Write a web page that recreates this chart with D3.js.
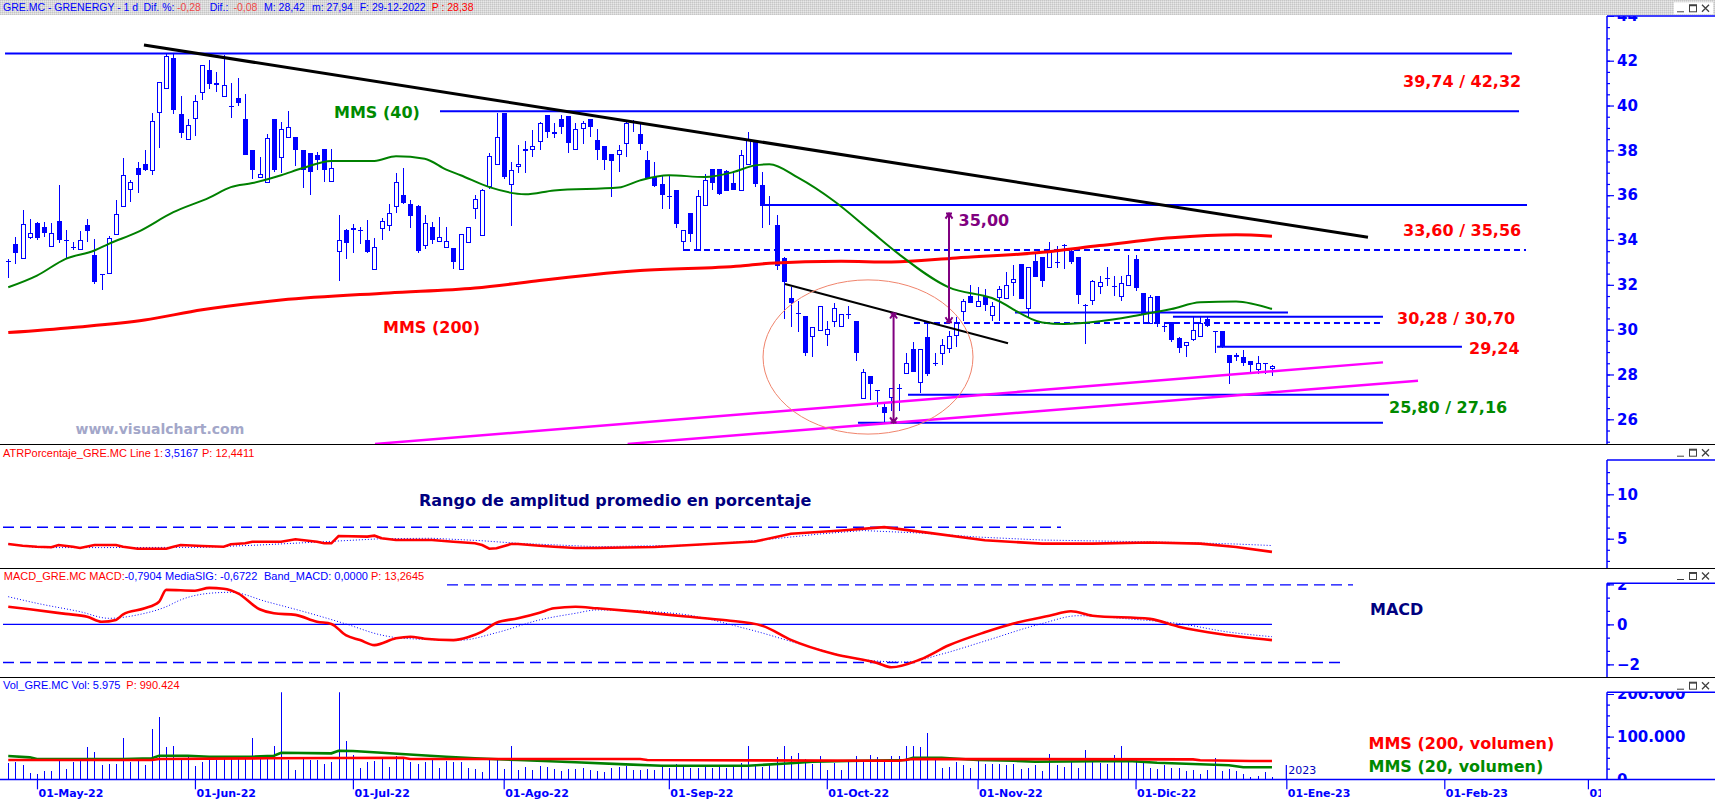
<!DOCTYPE html>
<html><head><meta charset="utf-8">
<script src="https://cdn.jsdelivr.net/npm/d3@7"></script>
<style>
html,body{margin:0;padding:0;background:#fff;overflow:hidden}
svg{display:block}
</style></head><body>
<svg id="c" width="1715" height="799"></svg>
<script>
// ---------------- DATA ----------------
// sessions start 26-Apr-2022 (index 0); last bar 29-Dec-2022 (index 176)
const firstSession = "2022-04-26";
const holidays = ["2022-12-26"];
const monthKeys   = ["2022-05","2022-06","2022-07","2022-08","2022-09","2022-10","2022-11","2022-12","2023-01","2023-02","2023-03"];
const monthLabels = ["01-May-22","01-Jun-22","01-Jul-22","01-Ago-22","01-Sep-22","01-Oct-22","01-Nov-22","01-Dic-22","01-Ene-23","01-Feb-23","01-Mar-23"];

const opens = [
33.08,33.80,33.16,34.10,34.77,34.57,33.68,34.87,34.01,33.68,
33.56,34.69,33.31,32.48,32.48,34.23,35.47,36.22,37.23,37.38,
37.08,39.67,40.72,42.11,39.64,38.48,39.38,40.58,41.58,40.90,
40.36,40.00,40.32,39.42,38.00,36.77,36.54,39.39,37.68,38.57,
38.60,38.00,37.86,37.81,38.04,36.59,33.46,34.45,34.45,34.43,
34.01,32.67,34.50,34.63,35.47,36.02,35.62,35.50,33.71,34.60,
33.90,33.65,33.65,32.66,33.87,35.40,34.17,36.36,37.33,39.68,
36.47,37.26,37.97,38.00,38.38,39.57,38.72,39.42,39.52,38.03,
38.97,39.38,38.48,38.18,37.83,37.81,38.30,39.05,38.72,37.59,
36.81,36.51,35.96,36.22,33.90,35.22,33.53,35.51,37.18,37.18,
37.08,36.56,36.19,37.33,38.48,36.47,35.62,34.69,33.20,31.41,
30.74,30.62,29.65,29.95,29.77,30.35,30.14,30.72,30.40,26.89,
27.94,27.31,26.55,26.94,27.39,28.04,29.13,27.64,29.68,28.53,
28.91,29.13,29.73,30.77,31.52,30.99,31.52,30.62,31.41,31.37,
32.08,32.93,30.92,33.05,33.26,32.75,33.04,33.78,33.53,33.26,
31.10,31.29,31.92,32.31,31.96,31.44,31.96,33.13,31.64,30.25,
31.52,30.17,30.32,29.62,29.28,29.55,29.68,30.47,29.92,29.92,
28.88,28.88,28.79,28.61,28.19,28.49,28.25];
const highs = [
33.16,34.13,35.35,34.95,34.80,34.80,34.75,36.44,34.45,33.90,
34.40,34.95,34.05,32.50,34.20,35.77,37.66,36.66,37.48,38.00,
39.67,41.03,42.33,42.33,40.42,39.38,40.47,41.81,42.03,41.51,
42.26,40.99,41.21,40.51,38.00,37.70,38.75,39.39,39.27,39.75,
38.60,38.00,37.86,37.93,38.04,38.04,35.10,34.50,34.70,34.57,
34.90,34.10,34.97,35.59,37.00,37.20,35.80,35.55,35.13,34.80,
35.02,34.60,33.65,34.28,34.57,35.99,36.29,37.88,39.65,39.68,
37.48,38.23,38.40,38.93,39.27,39.57,39.20,39.57,39.52,39.20,
39.32,39.38,38.97,38.18,37.83,38.23,39.35,39.35,39.20,37.96,
37.48,36.84,36.84,36.22,34.45,35.22,36.22,36.96,37.18,37.18,
37.11,37.04,38.00,38.83,38.48,37.04,35.95,35.10,33.23,31.89,
31.29,30.62,30.13,31.07,30.40,31.17,30.70,31.07,30.40,28.24,
27.94,27.31,26.74,27.39,27.56,28.95,29.43,29.13,30.28,28.98,
29.58,29.95,30.55,31.37,32.00,31.92,31.81,31.22,31.96,32.56,
32.89,32.93,32.81,33.41,33.26,33.90,33.75,33.80,33.60,33.26,
31.14,32.23,32.41,32.78,32.41,32.41,33.31,33.31,31.64,31.55,
31.52,30.32,30.32,29.65,29.43,30.58,30.55,30.55,29.92,29.92,
28.88,28.94,29.10,28.61,28.83,28.49,28.42];
const lows = [
32.31,32.93,33.16,34.05,34.00,34.12,33.68,33.86,33.16,33.56,
33.56,33.90,32.04,31.77,32.48,34.23,35.47,35.69,36.10,37.10,
36.89,38.11,40.72,39.60,38.56,38.48,38.63,40.24,40.72,40.61,
40.36,39.45,40.00,37.78,36.74,36.75,36.54,37.04,36.99,38.57,
37.29,36.32,36.02,37.11,36.59,36.59,32.19,33.16,33.40,33.83,
33.40,32.67,34.00,34.40,35.20,35.60,34.55,33.40,33.60,33.80,
33.90,33.65,32.71,32.66,33.87,34.95,34.17,36.29,37.33,36.74,
34.62,36.99,36.99,37.71,38.00,38.53,38.53,38.75,37.88,38.03,
38.30,38.60,37.59,37.11,35.92,37.04,37.71,38.82,38.00,36.74,
36.36,35.40,35.40,34.55,33.53,33.90,33.53,35.51,36.22,35.99,
36.17,36.22,36.19,37.33,36.36,34.55,34.69,32.67,30.47,30.10,
29.88,28.83,28.76,29.95,29.28,30.10,30.14,30.47,28.58,26.89,
26.85,26.56,25.85,26.37,26.37,28.04,28.09,27.16,27.91,28.39,
28.41,28.94,29.23,30.40,31.19,30.99,30.82,30.40,30.40,31.37,
31.52,31.37,30.55,32.34,31.89,32.75,32.75,32.71,32.93,31.14,
29.35,31.11,31.59,31.96,31.52,31.29,31.96,31.74,30.25,30.25,
30.10,29.88,29.47,28.94,28.76,29.50,29.65,30.10,28.95,29.20,
27.56,28.58,28.37,28.06,28.01,28.00,27.94];
const closes = [
33.01,33.44,34.72,34.32,34.10,34.32,34.32,34.01,33.95,33.65,
33.98,34.42,32.11,32.44,34.10,35.17,36.89,36.60,36.89,37.11,
39.30,41.03,42.21,39.79,38.78,39.11,40.20,41.81,40.94,41.00,
40.90,39.94,40.12,37.78,37.11,36.96,38.57,37.11,38.97,39.05,
38.00,37.14,37.03,37.56,37.11,37.23,33.98,33.86,34.54,34.40,
33.46,33.68,34.84,35.20,36.59,35.65,35.05,33.53,34.75,34.00,
34.13,33.95,33.01,34.28,34.57,35.84,36.22,37.77,38.60,36.81,
37.11,37.41,38.05,38.18,39.20,38.82,38.81,39.05,38.33,38.97,
39.20,39.05,38.03,37.56,37.53,38.00,39.20,39.08,38.27,36.74,
36.39,35.99,35.94,34.72,34.45,34.28,35.98,36.69,36.54,36.07,
36.19,36.22,37.78,38.45,36.48,35.50,35.60,32.86,32.11,31.19,
30.72,28.94,30.13,31.07,30.03,30.96,30.70,30.70,28.95,28.09,
27.56,27.28,26.27,27.39,27.36,28.53,28.13,29.13,28.01,28.50,
29.32,29.73,30.28,31.29,31.19,31.26,31.11,31.04,31.81,31.99,
32.26,31.37,32.81,32.34,32.19,33.50,33.01,33.72,33.01,31.55,
31.07,32.19,32.11,32.28,31.94,32.08,32.44,31.86,30.70,31.44,
30.28,30.15,29.53,29.17,29.43,29.98,30.28,30.17,29.90,29.23,
28.53,28.76,28.53,28.43,28.50,28.46,28.38];
const volumes = [
38200,40600,32800,14800,13300,18700,18700,44500,25000,40600,
42200,75700,64000,34300,36700,36700,96800,40600,48400,34300,
117100,146000,75700,78100,48400,56200,31200,40600,52300,44500,
48400,50700,53900,53900,96800,52300,48400,77300,204500,44500,
21100,52300,44500,44500,36700,40600,204500,89000,56200,26500,
40600,42200,48400,28900,53900,52300,40600,36700,40600,44500,
26500,42900,40600,40600,27300,25000,17200,44500,44500,25000,
77300,21100,28900,22600,30400,28900,25000,19500,25000,25000,
26500,21100,19500,17200,27300,28900,30400,21100,21100,25000,
22600,30400,27300,36700,28900,27300,27300,30400,27300,28900,
27300,30400,38200,77300,32800,28900,36700,52300,77300,53900,
61700,48400,36700,53900,21100,38200,21100,40600,53900,44500,
56200,52300,44500,53900,
53900,77300,77300,75700,108500,48400,27300,28900,40600,32800,
27300,44500,36700,36700,36700,32800,36700,25000,27300,32800,
19500,58500,32800,28900,40600,27300,69500,40600,38200,36700,
56200,77300,40600,44500,40600,27300,25000,32800,27300,27300,
19500,21100,11700,22600,50700,19500,25000,19500,11700,5500,
7000,17200,5975];

// moving averages / indicators: [session index, value]
const mms40 = [[0,31.89],[4,32.41],[8,33.16],[12,33.53],[14,33.83],[18,34.35],[23,35.24],[28,35.89],[31,36.36],[34,36.54],[38,36.89],[41,37.21],[45,37.53],[51,37.53],[54,37.74],[58,37.63],[61,37.14],[63,36.89],[67,36.36],[72,36.04],[76,36.21],[85,36.34],[88,36.66],[92,36.89],[97,36.81],[101,37.03],[104,37.33],[106,37.38],[110,36.78],[115,35.74],[120,34.43],[124,33.38],[131,31.89],[137,31.41],[144,30.32],[147,30.25],[152,30.37],[157,30.62],[162,30.92],[166,31.22],[171,31.26],[176,30.92]];
const mms200 = [[0,29.87],[9,30.10],[19,30.43],[27,30.89],[38,31.32],[53,31.64],[65,31.86],[74,32.19],[78,32.34],[88,32.64],[102,32.84],[106,32.96],[116,33.05],[123,33.02],[132,33.20],[144,33.45],[152,33.75],[162,34.10],[171,34.23],[176,34.17]];
const atrLine = [[0,4.40],[2,4.21],[4,4.10],[6,4.03],[7,4.29],[9,4.10],[10,3.95],[12,4.29],[15,4.29],[16,4.10],[18,3.87],[22,3.87],[23,4.10],[24,4.29],[27,4.18],[30,4.10],[31,4.37],[33,4.48],[34,4.66],[38,4.66],[40,4.93],[43,4.66],[44,4.48],[45,4.48],[46,5.30],[50,5.23],[51,5.34],[52,5.05],[54,4.85],[59,4.85],[62,4.66],[65,4.48],[66,4.29],[67,3.87],[68,3.92],[70,4.40],[71,4.40],[74,4.21],[76,4.10],[79,3.95],[82,3.95],[90,4.06],[104,4.68],[109,5.55],[116,5.92],[122,6.30],[128,5.68],[136,4.82],[144,4.45],[151,4.45],[159,4.57],[166,4.45],[171,4.06],[176,3.52]];
const atrAvg = [[0,4.40],[4,4.00],[13,4.00],[27,4.03],[35,4.29],[44,4.66],[52,5.00],[59,5.05],[66,4.77],[71,4.48],[82,4.10],[96,4.29],[105,4.85],[113,5.53],[119,5.92],[127,5.64],[135,5.19],[144,4.85],[152,4.74],[160,4.63],[166,4.51],[171,4.40],[176,4.23]];
const atrBand = 6.29;
const macdLine = [[0,0.88],[3,0.75],[8,0.52],[11,0.38],[13,0.13],[15,0.22],[16,0.50],[19,0.80],[21,1.13],[22,1.72],[26,1.68],[28,1.82],[30,1.78],[32,1.55],[35,0.75],[37,0.55],[40,0.47],[43,0.13],[45,0.02],[47,-0.54],[49,-0.79],[51,-1.04],[54,-0.70],[56,-0.62],[58,-0.72],[62,-0.79],[64,-0.65],[66,-0.37],[68,0.08],[71,0.30],[74,0.58],[76,0.80],[79,0.88],[82,0.80],[88,0.62],[94,0.40],[100,0.20],[105,-0.07],[109,-0.78],[115,-1.49],[121,-1.93],[123,-2.15],[127,-1.76],[131,-1.05],[136,-0.40],[140,0.04],[145,0.43],[148,0.65],[151,0.43],[159,0.27],[163,-0.12],[169,-0.50],[176,-0.79]];
const macdSignal = [[0,1.38],[4,1.05],[10,0.63],[14,0.30],[18,0.47],[22,0.88],[24,1.22],[28,1.55],[31,1.60],[36,1.13],[42,0.55],[47,0.02],[52,-0.54],[55,-0.70],[63,-0.79],[68,-0.42],[74,0.22],[79,0.55],[82,0.72],[93,0.54],[103,-0.24],[112,-1.16],[119,-1.77],[125,-1.89],[130,-1.49],[136,-0.84],[144,0.04],[149,0.43],[156,0.27],[163,0.04],[170,-0.39],[176,-0.62]];
const macdBands = [1.97, -1.91];
const volMms200 = [[0,45200],[20,45200],[21,47500],[36,49200],[55,50600],[56,47500],[88,47500],[89,45200],[124,43600],[126,47500],[165,46800],[166,44500],[173,42900],[176,42900]];
const volMms20 = [[0,54600],[3,51500],[4,47500],[16,47500],[20,49200],[21,55300],[25,55300],[28,52900],[34,52900],[37,55300],[38,62300],[45,60900],[46,67000],[48,66300],[52,62300],[57,56900],[61,52900],[65,49200],[71,45200],[79,39800],[86,35100],[91,31900],[103,31900],[109,37500],[112,41200],[117,42900],[125,45200],[126,50600],[130,50600],[135,45200],[140,43600],[143,41200],[156,42900],[160,38900],[165,35800],[170,32800],[172,28100],[176,28100]];

// drawn studies (session index / price)
const levelValues = [42.32, 39.74, 35.56, 33.55, 30.77, 30.58, 30.30, 29.24, 27.10, 25.85];
const levelStarts = [-0.45, 60.13, 105.39, 94.11, 140.21, 162.21, 126.14, 168.34, 125.31, 118.34];
const levelEnds   = [209.43, 210.41, 211.52, 211.38, 178.23, 191.46, 191.32, 202.46, 192.30, 191.46];
const levelDashed = [false, false, false, true, false, false, true, false, false, false];
const trendMain  = [[18.9, 42.70], [189.37, 34.12]];
const trendShort = [[108.18, 32.04], [139.24, 29.39]];
const channelUpper = [[51.08, 24.90], [191.46, 28.54]];
const channelLower = [[86.26, 24.90], [196.34, 27.72]];
const ellipseCenter = [119.74, 28.78], ellipseRadius = [14.62, 3.44];
const arrowMoves = [[123.30, 30.72, 25.86], [131.02, 35.18, 30.33]];

const mainTicks = [26,28,30,32,34,36,38,40,42,44];
const atrTicks = [5,10];
const macdTicks = [-2,0,2];
const volTicks = [0,100000,200000];

// ---------------- SETUP ----------------
const BLUE="#0000ff", RED="#ff0000", GREEN="#008000", NAVY="#000080", PURPLE="#800080", MAG="#ff00ff";
const AX = 1607;
function buildSessions(){
  const out=[], hol=new Set(holidays);
  let d=new Date(firstSession+"T00:00:00Z");
  const end=new Date("2023-03-31T00:00:00Z");
  while(d<=end){const wd=d.getUTCDay(), iso=d.toISOString().slice(0,10);
    if(wd!==0&&wd!==6&&!hol.has(iso)) out.push(iso);
    d=new Date(d.getTime()+86400000);}
  return out;
}
const sessions = buildSessions();

const x = d3.scaleLinear().domain([-1.15, 222.66]).range([0, AX]);
const yM = d3.scaleLinear().domain([26,42]).range([419.3,60.7]);
const yA = d3.scaleLinear().domain([5,10]).range([538.7,494.3]);
const yD = d3.scaleLinear().domain([-2,2]).range([664.3,584.3]);
const yV = d3.scaleLinear().domain([0,200000]).range([779.3,694]);

const svg = d3.select("#c");
const defs = svg.append("defs");
function clip(id,xx,yy,w,h){defs.append("clipPath").attr("id",id).append("rect").attr("x",xx).attr("y",yy).attr("width",w).attr("height",h);}
clip("cMain",0,16,AX,428); clip("cMainAx",1600,16,115,428);
clip("cAtr",0,445,AX,123); clip("cAtrAx",1600,460,115,108);
clip("cMacd",0,569,AX,108); clip("cMacdAx",1600,583.3,115,93.7);
clip("cVol",0,692.3,AX,87.5); clip("cVolAx",1600,692.3,115,87.5);
clip("cDate",0,779,1601,20);
const pat = defs.append("pattern").attr("id","dither").attr("width",2).attr("height",2).attr("patternUnits","userSpaceOnUse");
pat.append("rect").attr("width",2).attr("height",2).attr("fill","#d8d8d8");
pat.append("rect").attr("width",1).attr("height",1).attr("fill","#c6c6c6");
pat.append("rect").attr("x",1).attr("y",1).attr("width",1).attr("height",1).attr("fill","#e8e8e8");

svg.append("rect").attr("width",1715).attr("height",799).attr("fill","#fff");
svg.append("rect").attr("width",1715).attr("height",15).attr("fill","url(#dither)");

// header texts
function header(segs, y, size, fam){
  const t = svg.append("text").attr("y",y).attr("font-family",fam||"Liberation Sans, Arial, sans-serif").attr("font-size",size);
  segs.forEach(s=>t.append("tspan").attr("x",s[1]).attr("fill",s[2]).text(s[0]));
}
header([["GRE.MC - GRENERGY -  1 d",3,BLUE],["Dif. %:",143.5,BLUE],["-0,28",177,"#f04848"],["Dif.:",209.7,BLUE],["-0,08",233.4,"#f04848"],["M: 28,42",264,BLUE],["m: 27,94",312,BLUE],["F: 29-12-2022",359.7,BLUE],["P : 28,38",431.7,RED]],11.3,10.5);
header([["ATRPorcentaje_GRE.MC  Line 1:",3,RED],["3,5167",164.6,BLUE],["P: 12,4411",202,RED]],456.6,11);
header([["MACD_GRE.MC  MACD:",3.8,RED],["-0,7904",124.4,BLUE],["MediaSIG: -0,6722",165,BLUE],["Band_MACD: 0,0000",264,BLUE],["P: 13,2645",371,RED]],579.6,11);
header([["Vol_GRE.MC  Vol: 5.975",3,BLUE],["P: 990.424",126.3,RED]],689,11);

// window buttons
function buttons(yc, white){
  const g = svg.append("g").attr("stroke","#404040").attr("fill","none");
  if(white) g.append("rect").attr("x",1674).attr("y",yc-6).attr("width",39).attr("height",12).attr("fill","#fff").attr("stroke","none");
  g.append("line").attr("x1",1677).attr("x2",1684).attr("y1",yc+3.5).attr("y2",yc+3.5);
  g.append("rect").attr("x",1689.5).attr("y",yc-3.5).attr("width",7).attr("height",7);
  g.append("line").attr("x1",1689.5).attr("x2",1696.5).attr("y1",yc-2.8).attr("y2",yc-2.8).attr("stroke-width",1.5);
  g.append("path").attr("d",`M1702,${yc-3.5}L1709,${yc+3.5}M1709,${yc-3.5}L1702,${yc+3.5}`).attr("stroke-width",1.3);
}
buttons(8.3,true); buttons(452.7); buttons(576); buttons(685.7);

// separators
[444.5,568.5,677.5].forEach(yy=>svg.append("line").attr("x1",0).attr("x2",1715).attr("y1",yy).attr("y2",yy).attr("stroke","#000").attr("stroke-width",1.2));

// right axes frames
function axisFrame(top,bot){
  svg.append("line").attr("x1",AX).attr("x2",AX).attr("y1",top).attr("y2",bot).attr("stroke",BLUE).attr("stroke-width",1.5);
  svg.append("line").attr("x1",AX).attr("x2",1715).attr("y1",top).attr("y2",top).attr("stroke",BLUE).attr("stroke-width",1.5);
}
axisFrame(16,444); axisFrame(460,568); axisFrame(583.3,677); axisFrame(692.3,779.3);

function rightAxis(scale, majors, minors, clipId, fmt){
  const outer = svg.append("g").attr("clip-path",`url(#${clipId})`);
  const g = outer.append("g").attr("transform",`translate(${AX},0)`);
  const mn = g.append("g").call(d3.axisRight(scale).tickValues(minors).tickSize(3).tickFormat(""));
  const mj = g.append("g").call(d3.axisRight(scale).tickValues(majors).tickSize(7).tickPadding(3).tickFormat(fmt));
  [mn,mj].forEach(a=>{a.select(".domain").remove(); a.selectAll("line").attr("stroke",BLUE).attr("stroke-width",1.2);});
  mj.selectAll("text").attr("fill",BLUE).attr("font-family","DejaVu Sans, sans-serif").attr("font-weight","bold").attr("font-size",15);
}
rightAxis(yM, mainTicks, d3.range(25,44.01,0.5), "cMainAx", d3.format("d"));
rightAxis(yA, atrTicks, d3.range(2.5,12.6,1.25), "cAtrAx", d3.format("d"));
rightAxis(yD, macdTicks, d3.range(-2,2.01,2/3), "cMacdAx", d3.format("d"));
rightAxis(yV, volTicks, d3.range(0,200001,25000), "cVolAx", d=>d3.format(",")(d).replace(/,/g,"."));

// ---------------- MAIN PANEL ----------------
const gM = svg.append("g").attr("clip-path","url(#cMain)");
const bars = opens.map((o,k)=>({k,o,h:highs[k],l:lows[k],c:closes[k]}));
const gC = gM.append("g").attr("shape-rendering","crispEdges");
gC.selectAll("line.w").data(bars).join("line").attr("class","w")
  .attr("x1",d=>Math.round(x(d.k))+0.5).attr("x2",d=>Math.round(x(d.k))+0.5)
  .attr("y1",d=>yM(d.h)).attr("y2",d=>yM(d.l)).attr("stroke",BLUE);
gC.selectAll("rect.dn").data(bars.filter(d=>d.c<d.o)).join("rect").attr("class","dn")
  .attr("x",d=>Math.round(x(d.k))-2).attr("width",5)
  .attr("y",d=>yM(d.o)).attr("height",d=>Math.max(1,yM(d.c)-yM(d.o))).attr("fill",BLUE);
gC.selectAll("rect.up").data(bars.filter(d=>d.c>=d.o)).join("rect").attr("class","up")
  .attr("x",d=>Math.round(x(d.k))-1.5).attr("width",4)
  .attr("y",d=>yM(d.c)+0.5).attr("height",d=>Math.max(0,yM(d.o)-yM(d.c)-1)).attr("fill","#fff").attr("stroke",BLUE);

const lineM = d3.line().x(d=>x(d[0])).y(d=>yM(d[1]));
// levels
levelValues.forEach((v,j)=>{
  gM.append("line").attr("x1",x(levelStarts[j])).attr("x2",x(levelEnds[j])).attr("y1",yM(v)).attr("y2",yM(v))
    .attr("stroke",BLUE).attr("stroke-width",2).attr("stroke-dasharray",levelDashed[j]?"6,4":null);
});
gM.append("path").datum(mms200).attr("d",lineM.curve(d3.curveMonotoneX)).attr("fill","none").attr("stroke",RED).attr("stroke-width",3);
gM.append("path").datum(mms40).attr("d",lineM.curve(d3.curveMonotoneX)).attr("fill","none").attr("stroke",GREEN).attr("stroke-width",2);
const lineS = d3.line().x(d=>x(d[0])).y(d=>yM(d[1]));
gM.append("path").datum(trendMain).attr("d",lineS).attr("stroke","#000").attr("stroke-width",3);
gM.append("path").datum(trendShort).attr("d",lineS).attr("stroke","#000").attr("stroke-width",2);
[channelUpper,channelLower].forEach(c=>gM.append("path").datum(c).attr("d",lineS).attr("stroke",MAG).attr("stroke-width",2.5));
gM.append("ellipse").attr("cx",x(ellipseCenter[0])).attr("cy",yM(ellipseCenter[1]))
  .attr("rx",x(ellipseCenter[0]+ellipseRadius[0])-x(ellipseCenter[0]))
  .attr("ry",yM(ellipseCenter[1]-ellipseRadius[1])-yM(ellipseCenter[1]))
  .attr("fill","none").attr("stroke","#f0846c").attr("stroke-width",1);
arrowMoves.forEach(a=>{
  const ax=x(a[0]), y1=yM(a[1]), y2=yM(a[2]);
  gM.append("path").attr("d",`M${ax},${y1}L${ax},${y2}M${ax-3.5},${y1+5}L${ax},${y1}L${ax+3.5},${y1+5}M${ax-3.5},${y2-5}L${ax},${y2}L${ax+3.5},${y2-5}M${ax-3},${y1}L${ax+3},${y1}M${ax-3},${y2}L${ax+3},${y2}`)
    .attr("stroke",PURPLE).attr("stroke-width",2).attr("fill","none");
});

// labels
function label(txt, xx, yy, color, size){
  svg.append("text").attr("x",xx).attr("y",yy).attr("dy","0.35em").attr("fill",color)
    .attr("font-family","DejaVu Sans, sans-serif").attr("font-weight","bold").attr("font-size",size||16).text(txt);
}
label("MMS (40)",334,112,"#008a00");
label("MMS (200)",383,327,RED);
label("39,74 / 42,32",1403,81.7,RED);
label("33,60 / 35,56",1403,230,RED);
label("30,28 / 30,70",1397,318.3,RED);
label("29,24",1469,348.3,RED);
label("25,80 / 27,16",1389,407.7,"#008a00");
label("35,00",958.6,220.7,PURPLE);
label("www.visualchart.com",75.5,429,"#a3a7c9",14);
label("Rango de amplitud promedio en porcentaje",419,500,NAVY);
label("MACD",1370,609,NAVY);
label("MMS (200, volumen)",1368.5,743.3,RED);
label("MMS (20, volumen)",1368.5,766,"#008a00");

// ---------------- ATR ----------------
const gA = svg.append("g").attr("clip-path","url(#cAtr)");
gA.append("line").attr("x1",3).attr("x2",1061).attr("y1",yA(atrBand)).attr("y2",yA(atrBand)).attr("stroke",BLUE).attr("stroke-width",1.3).attr("stroke-dasharray","11,6");
const lineA = d3.line().x(d=>x(d[0])).y(d=>yA(d[1]));
gA.append("path").datum(atrAvg).attr("d",lineA).attr("fill","none").attr("stroke",BLUE).attr("stroke-width",1).attr("stroke-dasharray","1,2");
gA.append("path").datum(atrLine).attr("d",lineA).attr("fill","none").attr("stroke",RED).attr("stroke-width",2.6);

// ---------------- MACD ----------------
const gD = svg.append("g").attr("clip-path","url(#cMacd)");
gD.append("line").attr("x1",447).attr("x2",1353).attr("y1",yD(macdBands[0])).attr("y2",yD(macdBands[0])).attr("stroke",BLUE).attr("stroke-width",1.3).attr("stroke-dasharray","11,6");
gD.append("line").attr("x1",3).attr("x2",1340).attr("y1",yD(macdBands[1])).attr("y2",yD(macdBands[1])).attr("stroke",BLUE).attr("stroke-width",1.3).attr("stroke-dasharray","11,6");
gD.append("line").attr("x1",3).attr("x2",x(176)).attr("y1",yD(0)).attr("y2",yD(0)).attr("stroke",BLUE).attr("stroke-width",1.2);
const lineD = d3.line().x(d=>x(d[0])).y(d=>yD(d[1])).curve(d3.curveMonotoneX);
gD.append("path").datum(macdSignal).attr("d",lineD).attr("fill","none").attr("stroke",BLUE).attr("stroke-width",1).attr("stroke-dasharray","1,2");
gD.append("path").datum(macdLine).attr("d",lineD).attr("fill","none").attr("stroke",RED).attr("stroke-width",2.6);

// ---------------- VOLUME ----------------
const gV = svg.append("g").attr("clip-path","url(#cVol)");
gV.append("g").attr("shape-rendering","crispEdges").selectAll("line").data(volumes).join("line")
  .attr("x1",(d,k)=>Math.round(x(k))+0.5).attr("x2",(d,k)=>Math.round(x(k))+0.5)
  .attr("y1",yV(0)).attr("y2",d=>yV(d)).attr("stroke",BLUE).attr("stroke-width",1);
const lineV = d3.line().x(d=>x(d[0])).y(d=>yV(d[1]));
gV.append("path").datum(volMms20).attr("d",lineV).attr("fill","none").attr("stroke",GREEN).attr("stroke-width",2.6);
gV.append("path").datum(volMms200).attr("d",lineV).attr("fill","none").attr("stroke",RED).attr("stroke-width",2.6);
svg.append("line").attr("x1",0).attr("x2",1715).attr("y1",779.5).attr("y2",779.5).attr("stroke",BLUE).attr("stroke-width",1.5);

// date axis
const tickIdx = monthKeys.map(mk=>sessions.findIndex(d=>d.startsWith(mk)));
const gX = svg.append("g").attr("clip-path","url(#cDate)").append("g").attr("transform","translate(0,779.3)")
  .call(d3.axisBottom(x).tickValues(tickIdx).tickSize(10).tickFormat((d,j)=>monthLabels[j]));
gX.select(".domain").remove();
gX.selectAll("line").attr("stroke",BLUE).attr("stroke-width",1.2);
gX.selectAll("text").attr("text-anchor","start").attr("x",1).attr("y",17.5).attr("dy",null)
  .attr("fill",BLUE).attr("font-family","DejaVu Sans, sans-serif").attr("font-weight","bold").attr("font-size",11);
// year marker
const jan = x(tickIdx[8]);
svg.append("line").attr("x1",jan).attr("x2",jan).attr("y1",765).attr("y2",779).attr("stroke",BLUE).attr("stroke-width",1.2);
svg.append("text").attr("x",jan+2).attr("y",774).attr("fill","#0000c0").attr("font-family","DejaVu Sans, sans-serif").attr("font-size",11).text("2023");
</script></body></html>
